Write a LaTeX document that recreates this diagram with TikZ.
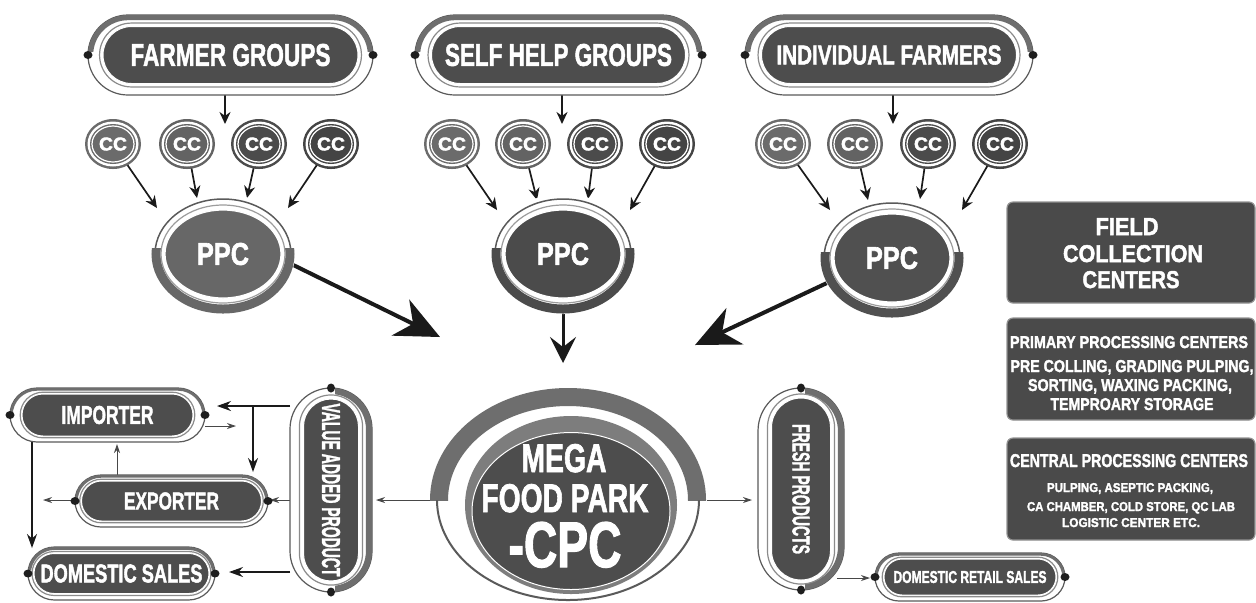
\documentclass[tikz,border=0pt]{standalone}
\usepackage{fontspec}
\usepackage{graphicx}
\newfontfamily\cf[FakeBold=2]{Liberation Sans Bold}
\usetikzlibrary{arrows.meta,shapes.misc,shapes.geometric}
\pgfdeclarelayer{bg}
\pgfsetlayers{bg,main}
\newlength\px
\setlength\px{0.5pt}
\newcommand\tx[3]{\resizebox{#1\px}{#2\px}{\cf #3}}
\definecolor{darkf}{HTML}{4D4D4D}
\definecolor{bandc}{HTML}{6E6E6E}
\definecolor{linec}{HTML}{5A5A5A}
\definecolor{dotc}{HTML}{1E1E1E}
\definecolor{cca}{HTML}{6B6B6B}
\definecolor{ccb}{HTML}{636363}
\definecolor{ccc}{HTML}{4B4B4B}
\definecolor{ccd}{HTML}{444444}
\definecolor{ppca}{HTML}{676767}
\definecolor{ppcb}{HTML}{4B4B4B}
\definecolor{ppcc}{HTML}{505050}
\definecolor{arrc}{HTML}{1A1A1A}
\definecolor{boxc}{HTML}{4A4A4A}
\definecolor{cpcring}{HTML}{7D7D7D}
% pill: name, cx, cy, outer half length, outer half height, inner half length, inner half height, rotation, text
\newcommand\pillnode[9]{%
 \begin{scope}[shift={(#2,#3)},rotate=#8]
  \pgfmathsetmacro\pbw{0.45*(#5-#7)}
  \pgfmathsetmacro\pro{0.3*(#5-#7)}
  \node[pillshape, minimum width={2*#4*\px}, minimum height={2*#5*\px}, draw=linec, line width=1.2\px, fill=white] at (0,0) {};
  \begin{scope}
   \clip (-#4-12,-#5-12) rectangle (#4+12,-4);
   \node[pillshape, minimum width={(2*#4-\pbw)*\px}, minimum height={(2*#5-\pbw)*\px}, draw=bandc, line width=\pbw*\px] at (0,0) {};
  \end{scope}
  \node[pillshape, minimum width={(2*#6+2*\pro)*\px}, minimum height={(2*#7+2*\pro)*\px}, draw=linec!70, line width=1.2\px] at (0,0) {};
  \node[pillshape, minimum width={2*#6*\px}, minimum height={2*#7*\px}, fill=darkf, draw=white, line width=1\px, text=white] (#1) at (0,0) {#9};
  \fill[dotc] (-#4,0) ellipse[x radius=4.5, y radius=4];
  \fill[dotc] (#4,0) ellipse[x radius=4.5, y radius=4];
 \end{scope}}
% CC: name, cx, cy, colour
\newcommand\ccnode[4]{%
 \fill[#4] (#2,#3) ellipse[x radius=28, y radius=25];
 \fill[white] (#2,#3) ellipse[x radius=25.5, y radius=22.5];
 \fill[#4] (#2,#3) ellipse[x radius=23, y radius=20];
 \node[ellipse, inner sep=0pt, minimum width=42\px, minimum height=36\px, fill=#4, draw=white, line width=1.2\px, text=white] (#1) at (#2,#3) {\tx{28}{13}{CC}};}
% PPC: name, cx, cy, colour
\newcommand\ppcnode[4]{%
 \fill[white] (#2,#3) ellipse[x radius=72, y radius=60];
 \draw[linec, line width=1.5\px] (#2,#3) ellipse[x radius=68, y radius=55];
 \begin{scope}
  \clip (#2-80,#3-6) rectangle (#2+80,#3+70);
  \draw[#4, line width=9\px] (#2,#3) ellipse[x radius=67, y radius=55];
 \end{scope}
 \draw[linec!60, line width=1.2\px] (#2,#3) ellipse[x radius=62, y radius=49];
 \node[ellipse, inner sep=0pt, minimum width=116\px, minimum height=88\px, fill=#4, draw=white, line width=1.2\px, text=white] (#1) at (#2,#3) {\tx{52}{22}{PPC}};}
\begin{document}
\begin{tikzpicture}[x=0.5pt,y=-0.5pt,
  pillshape/.style={rounded rectangle, inner sep=0pt, outer sep=0pt, transform shape},
  ar/.style={draw=arrc, line width=1pt, -{Stealth[length=6pt,width=5.5pt]}},
  arc2/.style={draw=arrc, line width=0.85pt, -{Stealth[length=6pt,width=5.5pt]}},
  bigar/.style={draw=arrc, line width=2pt, -{Stealth[length=22pt,width=20pt,inset=7pt]}},
  midar/.style={draw=arrc, line width=1.5pt, -{Stealth[length=13pt,width=13pt,inset=5pt]}},
  arm/.style={draw=arrc, line width=0.75pt, -{Stealth[length=7pt,width=5pt]}},
  art/.style={draw=arrc!80, line width=0.45pt, -{Stealth[length=4.5pt,width=3pt]}},
  wt/.style={text=white, inner sep=0pt},
  infobox/.style={rectangle, rounded corners=3pt, fill=boxc, draw=boxc!60, line width=0.6pt, inner sep=0pt}
]
\begin{pgfonlayer}{bg}
\fill[white] (0,0) rectangle (1256,602);
\end{pgfonlayer}
\useasboundingbox (0,0) rectangle (1256,602);

% top source pills
\pillnode{fg}{230.5}{55}{142.5}{40}{127.5}{28.5}{0}{\tx{200}{22}{FARMER GROUPS}}
\pillnode{shg}{558.5}{55}{143.5}{40}{127}{28.5}{0}{\tx{227}{22}{SELF HELP GROUPS}}
\pillnode{ifm}{889}{55}{144}{40}{127.5}{28.5}{0}{\tx{225}{19}{INDIVIDUAL FARMERS}}

% collection centres
\ccnode{fg1}{113}{144}{cca}\ccnode{fg2}{187}{144}{ccb}\ccnode{fg3}{259}{144}{ccc}\ccnode{fg4}{331}{144}{ccd}
\ccnode{sh1}{452}{144}{cca}\ccnode{sh2}{523}{144}{ccb}\ccnode{sh3}{595}{144}{ccc}\ccnode{sh4}{667}{144}{ccd}
\ccnode{if1}{783}{144}{cca}\ccnode{if2}{855}{144}{ccb}\ccnode{if3}{928}{144}{ccc}\ccnode{if4}{1000}{144}{ccd}

% primary processing centres
\ppcnode{ppc1}{223}{254}{ppca}
\ppcnode{ppc2}{563}{254}{ppcb}
\ppcnode{ppc3}{892}{258}{ppcc}

% mega food park
\begin{scope}
 \clip (420,370) rectangle (720,500);
 \draw[bandc, line width=18\px] (568,500) ellipse[x radius=129, y radius=103];
\end{scope}
\begin{scope}
 \clip (420,500) rectangle (720,610);
 \draw[linec, line width=2\px] (568,500) ellipse[x radius=131, y radius=100];
\end{scope}
\fill[cpcring] (571,505) ellipse[x radius=106, y radius=89];
\node[ellipse, inner sep=0pt, minimum width=198\px, minimum height=157\px, fill=darkf, draw=white, line width=1\px] (cpc) at (571,511) {};
\node[wt, anchor=base] (tmega) at (564,472) {\tx{85}{28}{MEGA}};
\node[wt, anchor=base] (tfood) at (565,512) {\tx{167}{28}{FOOD PARK}};
\node[wt, anchor=base] (tcpc) at (565,567) {\tx{113}{45}{-CPC}};

% output pills
\pillnode{imp}{107.5}{415}{97.5}{27}{85.5}{21}{0}{\tx{92}{18}{IMPORTER}}
\pillnode{exp}{171.5}{501}{96.5}{26}{90}{20}{0}{\tx{95}{17}{EXPORTER}}
\pillnode{dom}{121.5}{573.5}{93.5}{26.5}{87.5}{20}{0}{\tx{162}{18}{DOMESTIC SALES}}
\pillnode{vap}{331}{490}{102}{41}{91}{27.5}{-90}{\tx{173}{18}{VALUE ADDED PRODUCT}}
\pillnode{frp}{801}{489}{101}{43}{91}{29.5}{-90}{\tx{130}{17}{FRESH PRODUCTS}}
\pillnode{drs}{970}{577}{95}{24}{86}{18}{0}{\tx{153}{12}{DOMESTIC RETAIL SALES}}

% legend boxes
\node[infobox, minimum width=248\px, minimum height=101\px] (fccbox) at (1131,252.5) {};
\node[wt, anchor=base] (l1a) at (1127,235) {\tx{63}{17}{FIELD}};
\node[wt, anchor=base] (l1b) at (1133,262) {\tx{140}{17}{COLLECTION}};
\node[wt, anchor=base] (l1c) at (1131,288) {\tx{97}{17}{CENTERS}};
\node[infobox, minimum width=248\px, minimum height=102\px] (ppcbox) at (1131,369) {};
\node[wt, anchor=base] (l2a) at (1129,348) {\tx{238}{12}{PRIMARY PROCESSING CENTERS}};
\node[wt, anchor=base] (l2b) at (1132,372) {\tx{243}{12}{PRE COLLING, GRADING PULPING,}};
\node[wt, anchor=base] (l2c) at (1130,391) {\tx{204}{12}{SORTING, WAXING PACKING,}};
\node[wt, anchor=base] (l2d) at (1132,410) {\tx{163}{12}{TEMPROARY STORAGE}};
\node[infobox, minimum width=248\px, minimum height=102\px] (cpcbox) at (1131,489) {};
\node[wt, anchor=base] (l3a) at (1129,467) {\tx{238}{13}{CENTRAL PROCESSING CENTERS}};
\node[wt, anchor=base] (l3b) at (1130,492) {\tx{166}{9}{PULPING, ASEPTIC PACKING,}};
\node[wt, anchor=base] (l3c) at (1131,511) {\tx{208}{9}{CA CHAMBER, COLD STORE, QC LAB}};
\node[wt, anchor=base] (l3d) at (1131,527) {\tx{138}{9}{LOGISTIC CENTER ETC.}};

% connectors
\begin{pgfonlayer}{bg}
 \coordinate (fgT) at (225,124);
 \coordinate (shT) at (562,124);
 \coordinate (ifT) at (893,124);
 \draw[ar] (fgT |- fg.south) -- (fgT);
 \draw[ar] (shT |- shg.south) -- (shT);
 \draw[ar] (ifT |- ifm.south) -- (ifT);
 \foreach \n/\x/\y in {fg1/157/208, fg2/197/198, fg3/247/198, fg4/288/208,
                       sh1/497/210, sh2/537/200, sh3/588/199, sh4/630/210,
                       if1/830/210, if2/868/200, if3/920/199, if4/962/210}{
   \coordinate (\n-t) at (\x,\y);
   \draw[arc2] (\n) -- (\n-t);
 }
 \coordinate (b1) at (440,337);
 \coordinate (b2) at (563,363);
 \coordinate (b3) at (695,345);
 \draw[bigar] (ppc1.-5) -- (b1);
 \draw[midar] (ppc2) -- (b2);
 \draw[bigar] (ppc3.200) -- (b3);
 % left distribution
 \coordinate (va1) at (290,406); \coordinate (imT) at (217,406);
 \draw[arm] (va1) -- (imT);
 \coordinate (br1) at (253,406); \coordinate (br2) at (253,472);
 \draw[arm] (br1) -- (br2);
 \coordinate (im1) at (205,426); \coordinate (im2) at (236,426);
 \draw[art] (im1) -- (im2);
 \coordinate (ex1) at (117,475); \coordinate (ex2) at (117,444);
 \draw[art] (ex1) -- (ex2);
 \coordinate (im3) at (32,441); \coordinate (im4) at (32,548);
 \draw[arm] (im3) -- (im4);
 \coordinate (ex3) at (77,500); \coordinate (ex4) at (43,500);
 \draw[art] (ex3) -- (ex4);
 \coordinate (va2) at (290,500); \coordinate (va3) at (270,500);
 \draw[art] (va2) -- (va3);
 \coordinate (va4) at (290,572); \coordinate (va5) at (229,572);
 \draw[arm] (va4) -- (va5);
 \coordinate (cp1) at (430,500); \coordinate (cp2) at (376,500);
 \draw[art] (cp1) -- (cp2);
 \coordinate (cp3) at (707,500); \coordinate (cp4) at (752,500);
 \draw[art] (cp3) -- (cp4);
 \coordinate (fr1) at (837,578); \coordinate (fr2) at (870,578);
 \draw[art] (fr1) -- (fr2);
\end{pgfonlayer}
\end{tikzpicture}
\end{document}
